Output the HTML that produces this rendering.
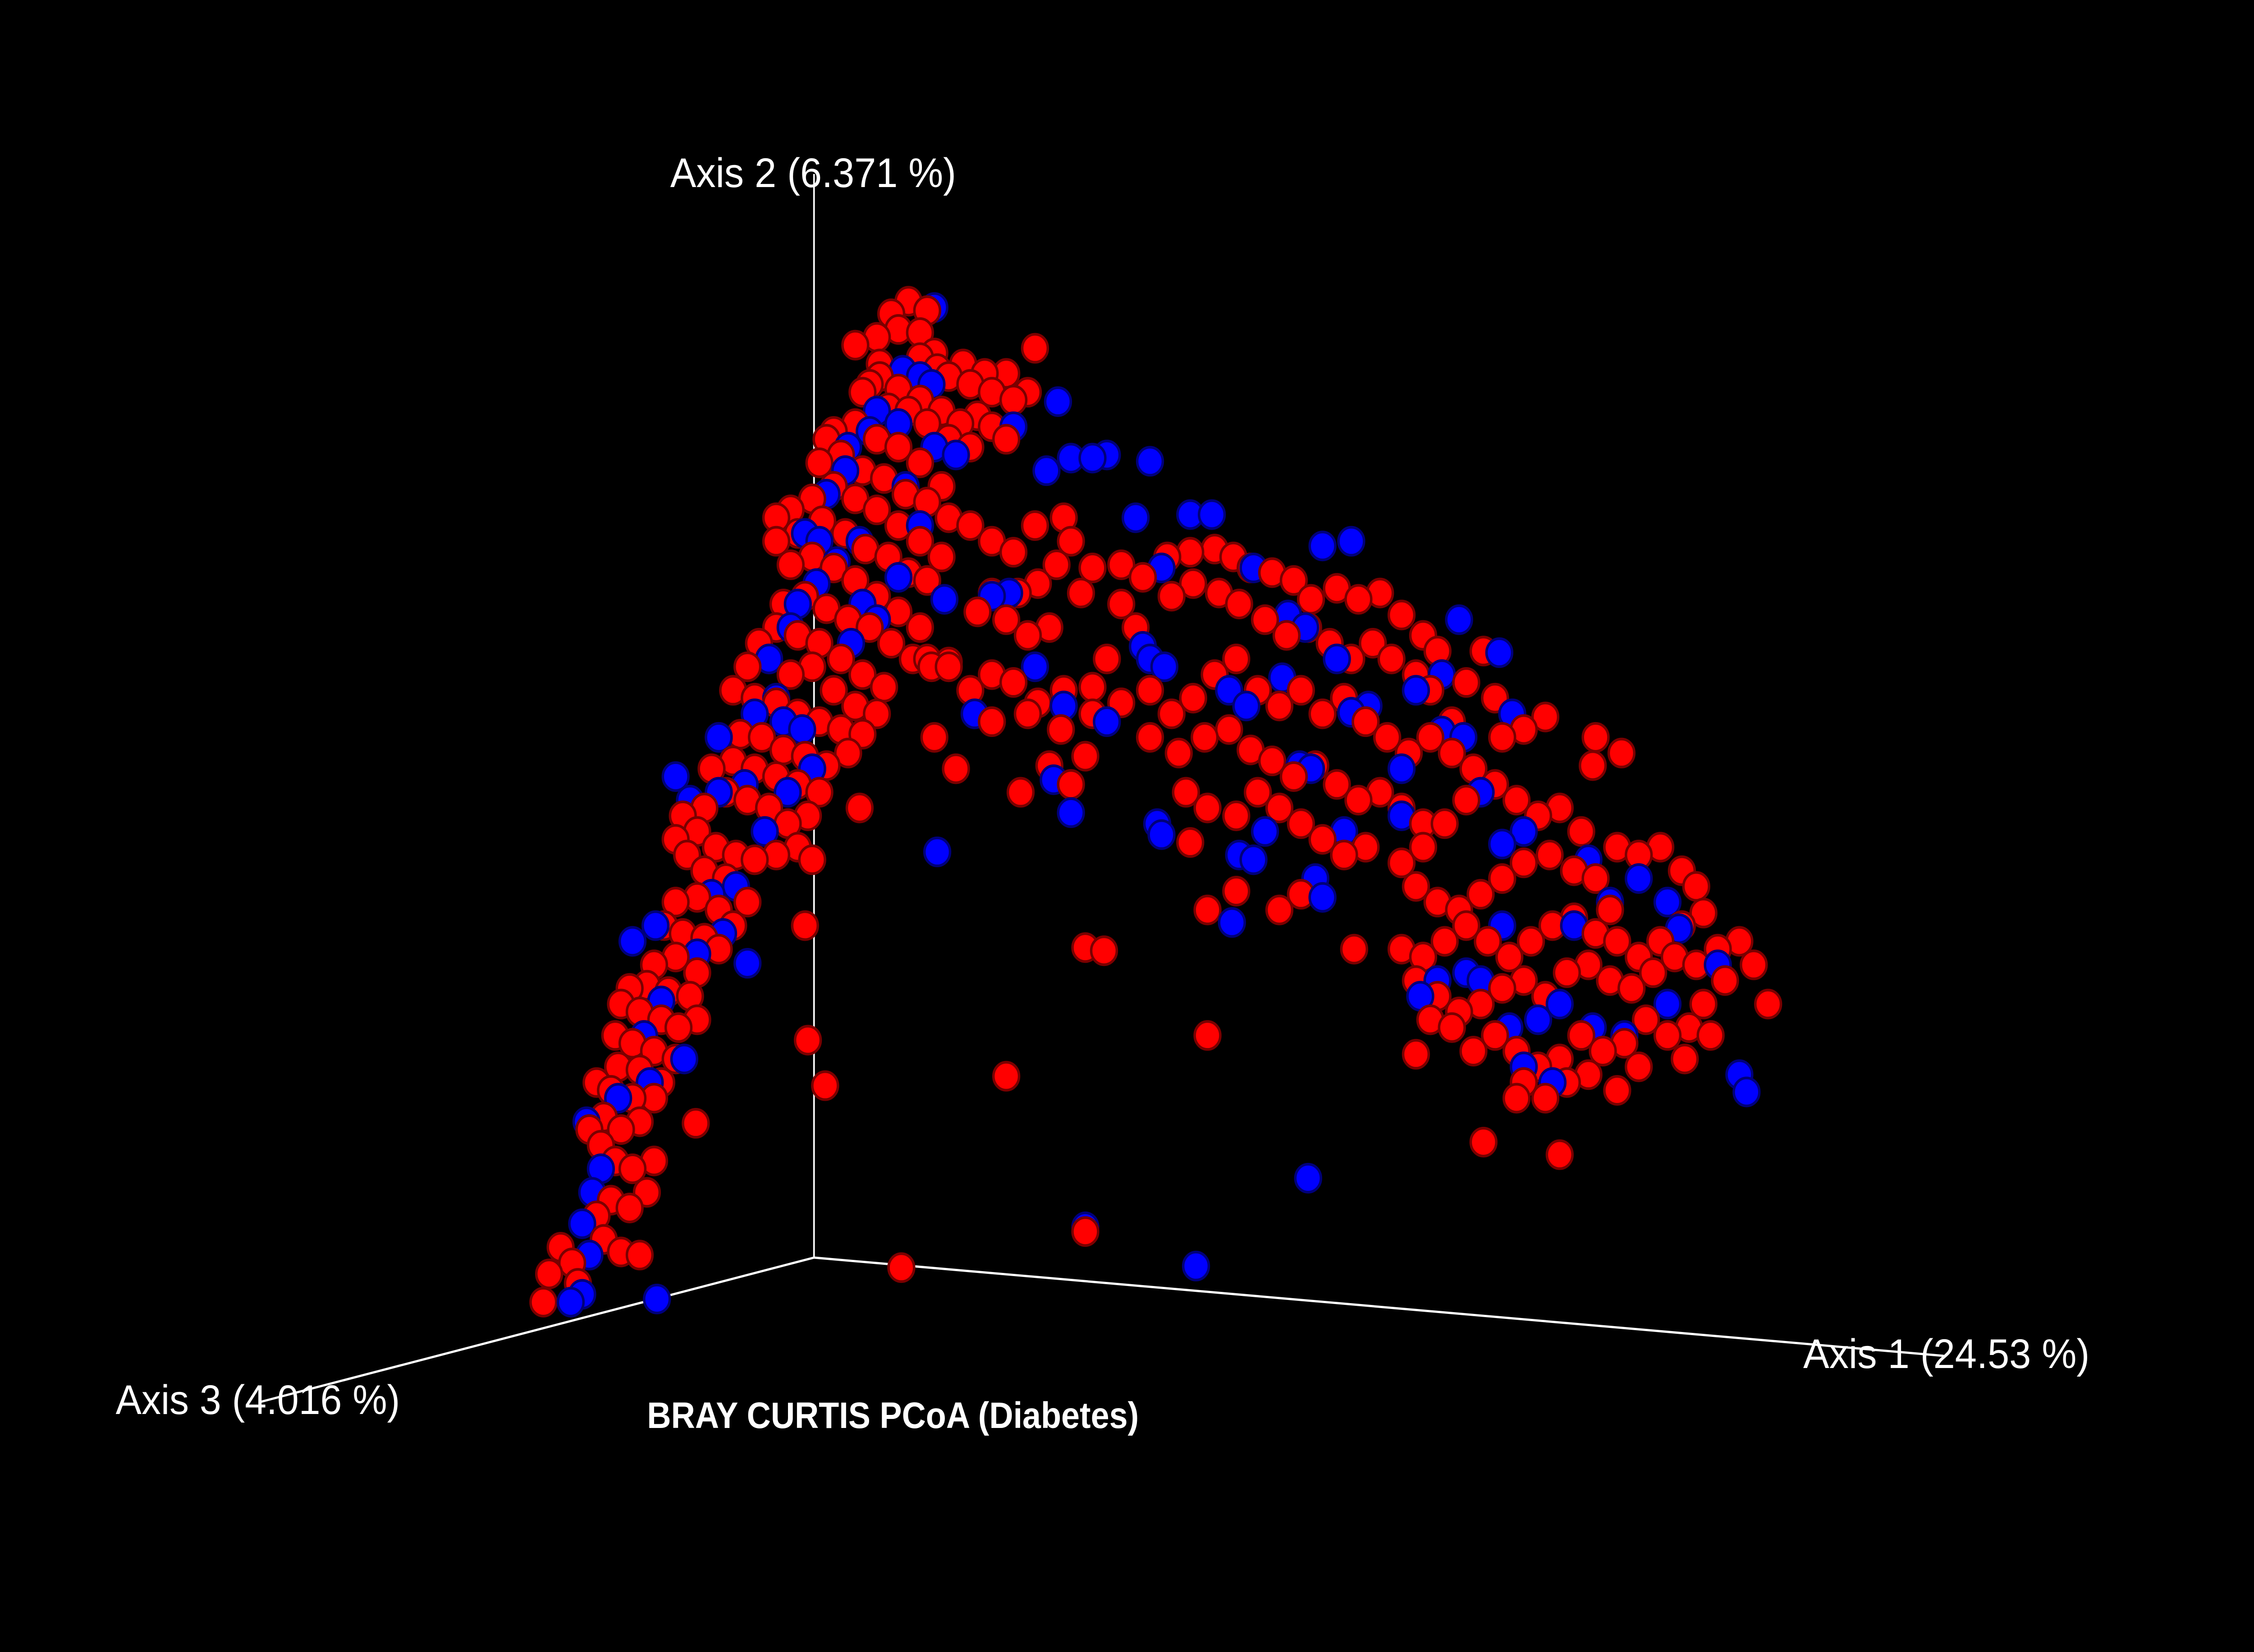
<!DOCTYPE html>
<html><head><meta charset="utf-8"><style>
html,body{margin:0;padding:0;background:#000;width:100%;height:100%;overflow:hidden;}
svg{display:block;position:fixed;left:0;top:0;width:100%;height:100%;}
</style></head><body>
<svg id="chart" viewBox="0 0 5455 3665" preserveAspectRatio="none" xmlns="http://www.w3.org/2000/svg">
<rect x="0" y="0" width="5455" height="3665" fill="#000"/>
<g id="axes">
<line x1="1970" y1="2790" x2="1970" y2="386" stroke="#fff" stroke-width="4"/>
<line x1="1970" y1="2790" x2="4704" y2="3008" stroke="#fff" stroke-width="5"/>
<line x1="1970" y1="2790" x2="631" y2="3110" stroke="#fff" stroke-width="5"/>
</g>
<g id="points"></g>
<text x="1622" y="415" fill="#fff" font-family="Liberation Sans, sans-serif" font-size="92" textLength="692" lengthAdjust="spacingAndGlyphs">Axis 2 (6.371 %)</text>
<text x="4364" y="3035" fill="#fff" font-family="Liberation Sans, sans-serif" font-size="92" textLength="693" lengthAdjust="spacingAndGlyphs">Axis 1 (24.53 %)</text>
<text x="280" y="3137" fill="#fff" font-family="Liberation Sans, sans-serif" font-size="92" textLength="688" lengthAdjust="spacingAndGlyphs">Axis 3 (4.016 %)</text>
<text x="1566" y="3168" fill="#fff" font-family="Liberation Sans, sans-serif" font-weight="bold" font-size="82" textLength="1190" lengthAdjust="spacingAndGlyphs">BRAY CURTIS PCoA (Diabetes)</text>
</svg>
<script>
// Projected PCoA coordinates (screen-projection units) for the two groups
const redU = [378,382,390,398,402,410,420,432,445,415,425,438,450,455,440,428,418,410,420,432,445,455,440,425,415,430,445,460,470,455,440,428,432,445,460,472,485,480,465,450,438,455,470,485,500,490,475,462,470,485,500,510,520,505,490,478,470,485,498,512,525,540,555,565,560,475,490,505,520,535,548,562,570,555,540,525,510,495,500,515,530,545,560,575,590,600,585,570,555,540,525,510,520,535,550,565,580,595,610,615,600,585,570,555,540,528,545,560,575,590,605,620,635,648,660,640,625,610,595,580,565,550,540,555,572,588,602,618,632,645,655,640,625,610,595,580,565,550,540,570,585,600,615,630,645,655,640,625,610,595,580,575,600,612,625,640,655,668,680,690,700,675,660,645,632,618,605,595,610,625,640,650,660,675,690,705,715,720,700,685,670,652,632,620,645,640,612,562,574,484,598,627,
660,675,690,705,720,740,745,735,722,708,690,680,700,715,730,752,760,780,795,812,828,845,858,870,885,900,912,930,945,960,975,990,1000,815,830,848,862,880,895,910,925,940,955,968,985,995,780,790,770,760,740,722,705,690,675,660,645,690,715,738,760,780,800,815,830,845,860,875,890,905,920,935,950,965,980,995,1010,800,820,838,855,870,885,900,915,930,945,960,975,990,825,840,860,875,890,905,920,935,950,710,745,755,730,665,650,828,840,860,890,905,942,755,768,840,700,755,1032,1085,1032,1020,1040,
1010,1025,1040,1055,1070,1085,1100,1110,1108,1128,1075,1060,1045,1020,1005,990,975,985,1000,1015,1030,1045,1060,1078,1095,1110,1125,1140,1155,1170,1180,1185,1170,1155,1140,1125,1110,1095,1080,1065,1050,1035,1020,1005,990,975,985,1000,1015,1030,1045,1060,1075,1090,1105,1120,1135,1150,1165,1180,1195,1210,1220,1230,1200,1185,1175,1160,1145,1130,1115,1100,1085,1070,1055,1040,1025,1010,995,985,1060,1075,1090,1105,1125,1140,1172,1190,1055,1120];
const redV = [830,812,795,805,818,800,790,798,800,775,765,770,760,740,745,740,730,720,712,720,715,700,700,695,690,680,682,690,675,670,665,660,640,645,650,655,650,635,632,628,630,615,610,620,605,598,595,590,575,572,580,590,575,560,555,545,535,530,540,545,548,545,540,548,590,520,515,505,510,515,525,520,505,500,495,490,485,490,470,468,470,478,482,488,480,468,465,460,455,448,445,440,425,420,430,425,440,450,455,438,430,420,410,405,400,410,385,380,388,395,400,410,420,425,422,400,390,380,370,362,355,360,345,340,332,340,350,355,365,370,355,345,335,325,318,310,318,325,330,295,290,300,305,315,320,310,295,285,280,270,275,280,250,240,248,255,262,270,265,272,280,285,280,270,262,260,245,220,215,210,212,225,240,245,250,255,250,222,238,238,232,235,192,200,198,228,232,663,692,716,515,808,
330,335,345,352,335,330,345,360,372,378,378,390,395,405,400,378,362,360,368,355,352,350,355,362,365,370,382,375,382,378,392,405,415,380,372,378,385,395,405,400,410,420,410,420,430,440,385,400,420,438,440,448,435,430,440,425,420,460,455,465,455,448,440,455,445,430,420,440,450,440,455,445,460,470,480,470,460,470,480,470,465,478,485,495,488,500,510,505,515,525,505,515,520,505,515,525,535,545,540,505,500,482,488,490,470,537,580,568,580,570,605,604,606,660,686,785,728,736,415,435,445,
480,490,500,510,520,515,530,470,488,480,457,465,470,510,525,540,550,565,575,580,570,560,550,545,555,560,540,545,540,555,565,582,590,600,610,600,595,585,590,600,610,600,590,600,610,605,625,635,645,640,630,625,635,620,615,625,630,620,610,615,605,600,615,640,625,640,655,660,650,665,670,660,675,680,670,660,670,655,650,672,690,700,690,685,695,680,675,660,700,580];
const blueU = [397,405,457,410,405,412,418,408,430,452,476,448,460,440,456,485,503,520,495,512,470,480,500,518,500,525,540,545,558,565,548,532,535,550,555,568,570,582,598,600,592,610,625,657,640,630,588,590,605,625,640,650,665,648,610,575,560,628,650,705,736,728,745,760,770,790,800,828,843,872,896,920,940,930,908,808,690,702,720,740,770,795,810,800,855,867,892,904,912,940,952,985,1003,1015,1043,1052,1018,1030,1045,1060,1003,975,678,652,733,745,805,808,862,872,880,935,975,920,915,857,1105,1120,1140,1160,1168,1095,1045,1020,1030,1050,1070,1085,1108,1130,1160,1195,1060,1080,1210,1215,910,832,755,1000,988];
const blueV = [830,825,828,800,780,760,745,715,700,690,675,660,638,600,590,608,595,614,570,565,495,510,505,500,470,455,445,460,465,490,505,530,420,400,385,372,345,358,345,385,410,395,368,382,335,310,300,285,275,270,240,285,290,245,262,315,340,236,196,272,256,300,292,292,290,330,294,328,328,362,392,348,345,420,400,362,380,378,425,450,460,412,425,420,440,450,432,488,490,454,450,440,430,395,416,455,470,505,538,530,466,490,455,543,497,518,525,532,545,548,530,530,520,572,560,588,548,575,560,575,592,590,590,620,625,655,650,640,655,660,640,615,680,690,685,696,751,807,782,625,635];

const SRC_W = 1568, SRC_H = 1053, OUT_W = 5455, OUT_H = 3665;
function xScale(u){ return u * OUT_W / SRC_W; }
function yScale(v){ return v * OUT_H / SRC_H; }
const R = 31;

const NS = 'http://www.w3.org/2000/svg';
const g = document.getElementById('points');
const all = [];
for (let i = 0; i < redU.length; i++) all.push({u: redU[i], v: redV[i], grp: 'red'});
for (let i = 0; i < blueU.length; i++) all.push({u: blueU[i], v: blueV[i], grp: 'blue'});
all.sort((a, b) => a.v - b.v);
for (const p of all) {
  const c = document.createElementNS(NS, 'circle');
  c.setAttribute('cx', xScale(p.u));
  c.setAttribute('cy', yScale(p.v));
  c.setAttribute('r', R);
  c.setAttribute('fill', p.grp === 'red' ? '#ff0000' : '#0000ff');
  c.setAttribute('stroke', p.grp === 'red' ? '#7a0000' : '#00007a');
  c.setAttribute('stroke-width', 6);
  
  
  g.appendChild(c);
}
</script>
</body></html>
